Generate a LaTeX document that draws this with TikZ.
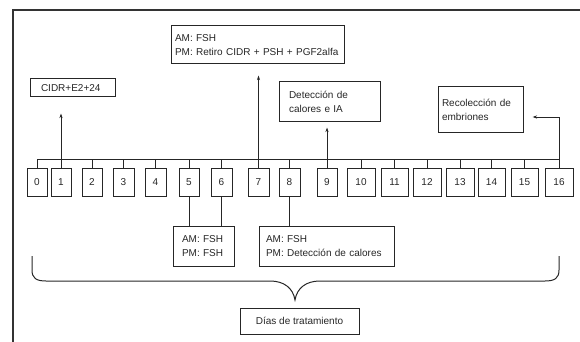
\documentclass[tikz,border=0pt]{standalone}
\usepackage{fontspec}
\setmainfont{Liberation Sans}
\usetikzlibrary{arrows.meta}

\begin{document}
\begin{tikzpicture}[
    x=1pt, y=-1pt,
    every node/.style={font=\fontsize{10}{14}\selectfont, text=black!85},
    box/.style={draw=black!85, line width=1pt, inner ysep=0pt, align=left},
    daybox/.style={draw=black!85, line width=1pt, minimum height=28pt, inner sep=0pt},
    link/.style={draw=black!85, line width=1pt},
    arr/.style={link, -{Stealth[length=4.5pt, width=3pt]}},
    frame/.style={draw=black!80, line width=1.6pt},
]
\useasboundingbox (0,0) rectangle (580,342);
\draw[frame] (13,342) |- (580,10);
% day boxes
\foreach \d/\x/\w in {0/37/20, 1/61/20, 2/92/20, 3/123.5/21, 4/155.5/21, 5/189/20, 6/221.5/21, 7/258.5/21, 8/289.5/21,
  9/327/20, 10/361/28, 11/394.5/27, 12/427/28, 13/460/28, 14/491.5/27, 15/524.5/27, 16/559/28} {
  \node[daybox, minimum width=\w] (d\d) at (\x,182) {\d};
}
% events
\node[box, text width=63pt, inner xsep=11pt, minimum height=18pt] (cidr) at (72.5,88) {CIDR+E2+24};
\node[box, text width=165pt, inner xsep=4pt, minimum height=38pt] (amtop) at (257.5,45) {AM: FSH\\PM: Retiro CIDR + PSH + PGF2alfa};
\node[box, text width=81pt, inner xsep=10pt, minimum height=39pt] (det) at (329.5,101.5) {Detección de\\calores e IA};
\node[box, text width=77pt, inner xsep=4pt, minimum height=45pt] (rec) at (480.5,109.5) {Recolección de\\embriones};
\node[box, text width=43pt, inner xsep=9pt, minimum height=40pt] (fsh) at (203.5,246) {AM: FSH\\PM: FSH};
\node[box, text width=121pt, inner xsep=7pt, minimum height=40pt] (cal) at (326.5,246) {AM: FSH\\PM: Detección de calores};
\node[box, align=center, minimum width=119pt, minimum height=26pt] (dias) at (299.5,321) {Días de tratamiento};
% bus
\coordinate (bus) at (0,159);
\draw[link] (d0.north) |- (bus -| d16.north) -- (d16.north);
\foreach \i in {2,3,4,5,6,8,10,11,12,13,14,15}
  \draw[link] (d\i.north) -- (d\i.north |- bus);
% arrows up
\draw[arr, shorten >=16pt] (d1.north) -- (d1.north |- cidr.south);
\draw[arr, shorten >=11pt] (d7.north) -- (d7.north |- amtop.south);
\draw[arr, shorten >=6pt] (d9.north) -- (d9.north |- det.south);
\coordinate (recin) at ([yshift=-7.5pt]rec.east);
\draw[arr, shorten >=9pt] (d16.north) |- (recin);
% links down
\draw[link] (d5.south) -- (d5.south |- fsh.north);
\draw[link] (d6.south) -- (d6.south |- fsh.north);
\draw[link] (d8.south) -- (d8.south |- cal.north);
% brace
\draw[link] (32,256) -- (32,270) .. controls (32,278) and (36,281) .. (46,281) -- (270,281)
  .. controls (284,281) and (293,288) .. (295,300)
  .. controls (297,288) and (306,281) .. (320,281) -- (545,281)
  .. controls (555,281) and (559,278) .. (559,270) -- (559,256);
\end{tikzpicture}
\end{document}
